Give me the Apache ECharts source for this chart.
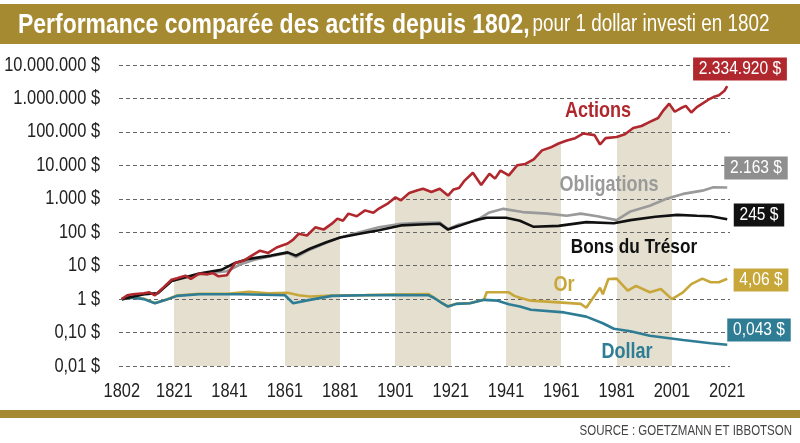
<!DOCTYPE html>
<html><head><meta charset="utf-8">
<script src="https://cdn.jsdelivr.net/npm/echarts@6/dist/echarts.min.js"></script>
<style>html,body{margin:0;padding:0;background:#fff}#c{width:800px;height:443px}</style>
</head><body><div id="c"></div>
<script>
const actionsYears = [1802,1804,1806,1810,1812,1814,1817,1820,1822,1825,1827,1830,1833,1835,1837,1840,1843,1846,1849,1852,1855,1858,1862,1864,1866,1869,1872,1875,1878,1880,1882,1884,1887,1890,1893,1895,1898,1901,1903,1906,1909,1911,1914,1917,1920,1922,1924,1926,1929,1932,1935,1937,1939,1942,1945,1948,1951,1954,1957,1960,1963,1966,1969,1973,1975,1977,1981,1984,1987,1990,1993,1996,1998,2000,2002,2004,2006,2008,2010,2012,2014,2016,2018,2020,2021];
const actionsValues = [1,1.3,1.4,1.5,1.6,1.3,2.2,3.8,4.2,5,4,5.8,5.5,6,4.8,5.2,12,14,20,28,24,35,46,60,90,80,140,120,180,255,220,360,300,450,380,510,700,1100,900,1500,1800,2000,1600,2000,1250,1900,2100,3500,6000,2600,5600,4000,7000,5000,10000,11000,15000,28000,34000,45000,55000,65000,90000,80000,42000,65000,70000,85000,130000,150000,200000,260000,450000,700000,400000,500000,600000,380000,550000,700000,900000,1100000,1250000,1700000,2334920];

const obligYears = [1802,1810,1815,1820,1830,1840,1845,1850,1856,1862,1865,1870,1876,1881,1888,1895,1903,1910,1917,1920,1924,1930,1935,1940,1947,1956,1963,1968,1974,1981,1986,1993,1999,2005,2012,2016,2021];
const obligValues = [1,1.4,1.5,3.5,5.5,6.8,11,15,19,24,18,30,48,70,100,140,180,190,195,125,170,220,390,500,400,360,310,360,300,230,420,620,1000,1400,1750,2200,2163];

const bonsYears = [1802,1810,1815,1820,1830,1838,1843,1848,1856,1862,1865,1870,1876,1881,1888,1895,1903,1910,1917,1920,1924,1930,1934,1941,1946,1951,1960,1970,1980,1986,1995,2003,2010,2015,2021];
const bonsValues = [1,1.4,1.5,3.5,5.8,7.5,12,16,20,25,20,32,50,70,90,115,160,170,180,120,155,230,270,270,220,145,155,200,185,230,290,330,310,300,245];

const orYears = [1802,1806,1810,1814,1818,1822,1830,1840,1848,1855,1862,1866,1870,1878,1890,1900,1913,1915,1918,1920,1923,1928,1933,1934,1942,1944,1946,1950,1960,1968,1970,1975,1976,1978,1981,1985,1988,1993,1997,2001,2005,2008,2012,2015,2018,2021];
const orValues = [1,1.12,1.02,0.76,0.96,1.28,1.45,1.45,1.65,1.5,1.55,1.3,1.2,1.28,1.32,1.37,1.42,1.1,0.75,0.61,0.73,0.76,0.96,1.6,1.6,1.25,1.1,0.9,0.8,0.72,0.55,2.2,1.4,4.0,4.1,1.8,2.5,1.6,2.0,1.0,1.6,2.8,4.1,3.2,3.2,4.06];

const dollarYears = [1802,1806,1810,1814,1818,1822,1830,1845,1861,1864,1870,1878,1890,1900,1913,1915,1918,1920,1923,1928,1933,1938,1942,1946,1950,1962,1970,1976,1980,1986,1993,2005,2015,2021];
const dollarValues = [1,1.1,1.0,0.75,0.95,1.25,1.4,1.4,1.3,0.75,0.95,1.25,1.3,1.33,1.3,1.08,0.74,0.6,0.72,0.75,0.95,0.9,0.7,0.6,0.48,0.4,0.3,0.19,0.13,0.11,0.08,0.06,0.048,0.043];

const xTickYears = [1802,1821,1841,1861,1881,1901,1921,1941,1961,1981,2001,2021];
const yTickValues = [0.01,0.1,1,10,100,1000,10000,100000,1000000,10000000];
const yTickLabels = ['0,01 $','0,10 $','1 $','10 $','100 $','1.000 $','10.000 $','100.000 $','1.000.000 $','10.000.000 $'];
const bandRanges = [[1821,1841],[1861,1881],[1901,1921],[1941,1961],[1981,2001]];
const seriesNames = ['Actions','Obligations','Bons du Trésor','Or','Dollar'];
const endLabels = ['2.334.920 $','2.163 $','245 $','4,06 $','0,043 $'];
const titleBold = 'Performance comparée des actifs depuis 1802,';
const titleRegular = 'pour 1 dollar investi en 1802';
const sourceText = 'SOURCE : GOETZMANN ET IBBOTSON';

const C = {actions:'#b0282e', oblig:'#9a9a9a', bons:'#111111', or:'#c8a73a', dollar:'#2e7d94', band:'#e4dfcf', bar:'#a68a31'};
const FONT = "'Liberation Sans', Arial, sans-serif";
const SX = 0.82; // horizontal condensing of the text

const pairs = (ys, vs) => ys.map((y, i) => [y, vs[i]]);

const chart = echarts.init(document.getElementById('c'), null, {renderer:'canvas'});

const lineSeries = (name, ys, vs, color, z) => ({
  name, type:'line', data: pairs(ys, vs), symbol:'none', z,
  lineStyle:{color, width:2.6}, itemStyle:{color}
});

chart.setOption({
  animation:false,
  backgroundColor:'#fff',
  grid:{left:119, right:70, top:65, bottom:77},
  xAxis:{type:'value', min:1801, max:2022,
    axisLine:{show:false}, axisTick:{show:false}, splitLine:{show:false}, axisLabel:{show:false}},
  yAxis:{type:'log', logBase:10, min:0.01, max:1e7, splitNumber:9, z:1,
    axisLine:{show:false}, axisTick:{show:false}, axisLabel:{show:false},
    splitLine:{show:true, lineStyle:{color:'#666', width:1, type:[4,3]}}},
  visualMap:{show:false, type:'piecewise', seriesIndex:0, dimension:0,
    pieces: bandRanges.map(r=>({gte:r[0], lte:r[1], color:C.band})),
    outOfRange:{color:'rgba(255,255,255,0)'}},
  series:[
    {name:'bands', type:'line', data:pairs(actionsYears, actionsValues), symbol:'none', z:0,
      lineStyle:{width:0, opacity:0}, areaStyle:{opacity:1, origin:'start'}, silent:true},
    lineSeries(seriesNames[3], orYears, orValues, C.or, 2),
    lineSeries(seriesNames[4], dollarYears, dollarValues, C.dollar, 3),
    lineSeries(seriesNames[1], obligYears, obligValues, C.oblig, 4),
    lineSeries(seriesNames[2], bonsYears, bonsValues, C.bons, 5),
    lineSeries(seriesNames[0], actionsYears, actionsValues, C.actions, 6)
  ]
});

const txt = (x, y, text, font, fill, align, extra) => ({
  type:'text', x, y, scaleX:SX, z:10,
  style:Object.assign({text, font, fill, align:align||'center', verticalAlign:'middle'}, extra||{})
});

const g = [];
g.push({type:'rect', shape:{x:0, y:4, width:800, height:40}, style:{fill:C.bar}, z:0});
g.push({type:'text', x:18, y:25, scaleX:SX, z:1, style:{
  text:'{b|'+titleBold+'} {r|'+titleRegular+'}', verticalAlign:'middle',
  rich:{b:{fontFamily:FONT, fontWeight:'bold', fontSize:28, fill:'#fff'},
        r:{fontFamily:FONT, fontSize:23, fill:'#fff'}}}});
g.push({type:'rect', shape:{x:0, y:410, width:800, height:8}, style:{fill:C.bar}});
g.push(txt(792, 431, sourceText, '14px '+FONT, '#444', 'right'));

// axis tick labels placed through the axes' own scales
yTickValues.forEach((v, i) => {
  const py = chart.convertToPixel({yAxisIndex:0}, v);
  g.push(txt(100, py, yTickLabels[i], '20px '+FONT, '#222', 'right'));
});
xTickYears.forEach(yr => {
  const px = chart.convertToPixel({xAxisIndex:0}, yr);
  g.push(txt(px, 391, String(yr), '20px '+FONT, '#222', 'center'));
});

// inline series names
g.push(txt(598, 111, seriesNames[0], 'bold 22px '+FONT, C.actions));
g.push(txt(609, 185, seriesNames[1], 'bold 22px '+FONT, C.oblig));
g.push(txt(634, 247, seriesNames[2], 'bold 21px '+FONT, '#111'));
g.push(txt(564, 285, seriesNames[3], 'bold 22px '+FONT, C.or));
g.push(txt(627, 352, seriesNames[4], 'bold 22px '+FONT, C.dollar));

// end value boxes
const box = (x, y, text, bg) => txt(x, y, text, '19px '+FONT, '#fff', 'center', {backgroundColor:bg, padding:[2,7]});
g.push(box(740, 69, endLabels[0], C.actions));
g.push(box(756, 168, endLabels[1], '#8f8f8f'));
g.push(box(759, 215, endLabels[2], '#111'));
g.push(box(761, 280, endLabels[3], C.or));
g.push(box(759, 330, endLabels[4], C.dollar));

chart.setOption({graphic:g});
</script></body></html>
